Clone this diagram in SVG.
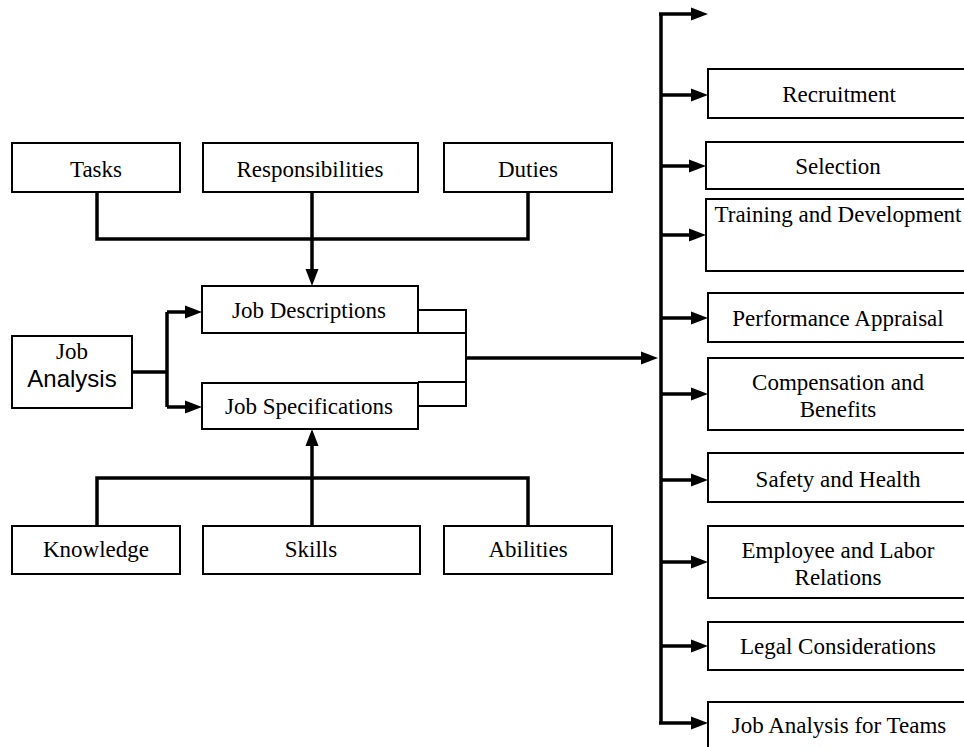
<svg xmlns="http://www.w3.org/2000/svg" width="964" height="747" viewBox="0 0 964 747">
<style>
.box{fill:#fff;stroke:#000;stroke-width:2}
.t{font-family:"Liberation Serif","Times New Roman",serif;font-size:23px;fill:#000;text-anchor:middle}
.a{font-family:"Liberation Sans",Arial,sans-serif;font-size:24px;fill:#000;text-anchor:middle}
.c{fill:none;stroke:#000;stroke-width:3.5}
.thin{fill:none;stroke:#000;stroke-width:2}
</style>
<defs>
<marker id="ah" markerUnits="userSpaceOnUse" markerWidth="18" markerHeight="14" refX="6" refY="7" orient="auto" viewBox="0 0 18 14">
<path d="M0,0.5 L17,7 L0,13.5 z" fill="#000"/>
</marker>
</defs>
<rect width="964" height="747" fill="#fff"/>
<g id="connectors">
<path class="c" d="M97,192 V239 H528 V192"/>
<path class="c" d="M312,192 V275" marker-end="url(#ah)"/>
<path class="c" d="M97,526 V478 H528 V526"/>
<path class="c" d="M312,526 V440" marker-end="url(#ah)"/>
<path class="c" d="M132,372 H167 M167,312 V407"/>
<path class="c" d="M167,312 H191" marker-end="url(#ah)"/>
<path class="c" d="M167,407 H191" marker-end="url(#ah)"/>
<path class="thin" d="M418,310 H466 V406 H418 M418,333 H466 M418,382 H466"/>
<path class="c" d="M466,358 H647" marker-end="url(#ah)"/>
<path class="c" d="M661,723 V14"/>
<path class="c" d="M659,14 H697" marker-end="url(#ah)"/>
<path class="c" d="M661,95 H697" marker-end="url(#ah)"/>
<path class="c" d="M661,166 H695" marker-end="url(#ah)"/>
<path class="c" d="M661,235 H695" marker-end="url(#ah)"/>
<path class="c" d="M661,318 H697" marker-end="url(#ah)"/>
<path class="c" d="M661,394 H697" marker-end="url(#ah)"/>
<path class="c" d="M661,480 H697" marker-end="url(#ah)"/>
<path class="c" d="M661,562 H697" marker-end="url(#ah)"/>
<path class="c" d="M661,646 H697" marker-end="url(#ah)"/>
<path class="c" d="M659,723 H697" marker-end="url(#ah)"/>
</g>
<g id="tasks"><rect class="box" x="12" y="143" width="168" height="49"/><text class="t" x="96" y="177">Tasks</text></g>
<g id="responsibilities"><rect class="box" x="203" y="143" width="215" height="49"/><text class="t" x="310" y="177">Responsibilities</text></g>
<g id="duties"><rect class="box" x="444" y="143" width="168" height="49"/><text class="t" x="528" y="177">Duties</text></g>
<g id="job-analysis"><rect class="box" x="12" y="336" width="120" height="72"/><text class="t" x="72" y="359">Job</text><text class="a" x="72" y="387">Analysis</text></g>
<g id="job-descriptions"><rect class="box" x="202" y="286" width="216" height="47"/><text class="t" x="309" y="318">Job Descriptions</text></g>
<g id="job-specifications"><rect class="box" x="202" y="383" width="216" height="46"/><text class="t" x="309" y="414">Job Specifications</text></g>
<g id="knowledge"><rect class="box" x="12" y="526" width="168" height="48"/><text class="t" x="96" y="557">Knowledge</text></g>
<g id="skills"><rect class="box" x="203" y="526" width="217" height="48"/><text class="t" x="311" y="557">Skills</text></g>
<g id="abilities"><rect class="box" x="444" y="526" width="168" height="48"/><text class="t" x="528" y="557">Abilities</text></g>
<g id="recruitment"><rect class="box" x="708" y="69" width="270" height="49"/><text class="t" x="839" y="102">Recruitment</text></g>
<g id="selection"><rect class="box" x="706" y="142" width="270" height="47"/><text class="t" x="838" y="174">Selection</text></g>
<g id="training"><rect class="box" x="706" y="199" width="270" height="72"/><text class="t" x="838" y="222">Training and Development</text></g>
<g id="performance"><rect class="box" x="708" y="293" width="270" height="49"/><text class="t" x="838" y="326">Performance Appraisal</text></g>
<g id="compensation"><rect class="box" x="708" y="358" width="270" height="72"/><text class="t" x="838" y="390">Compensation and</text><text class="t" x="838" y="417">Benefits</text></g>
<g id="safety"><rect class="box" x="708" y="453" width="270" height="49"/><text class="t" x="838" y="487">Safety and Health</text></g>
<g id="employee"><rect class="box" x="708" y="526" width="270" height="72"/><text class="t" x="838" y="558">Employee and Labor</text><text class="t" x="838" y="585">Relations</text></g>
<g id="legal"><rect class="box" x="708" y="622" width="270" height="48"/><text class="t" x="838" y="654">Legal Considerations</text></g>
<g id="teams"><rect class="box" x="708" y="702" width="270" height="60"/><text class="t" x="839" y="733">Job Analysis for Teams</text></g>
</svg>
